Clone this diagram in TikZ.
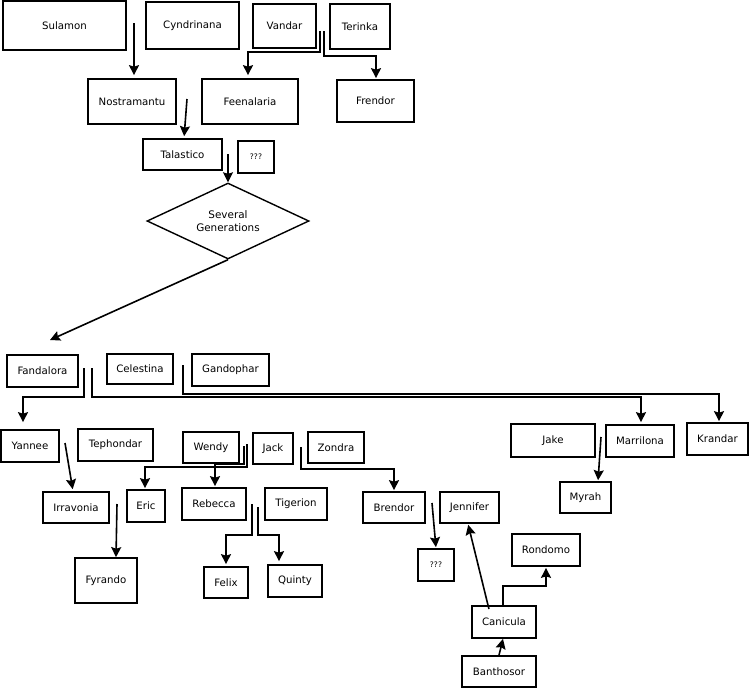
\documentclass[tikz,border=0pt]{standalone}
\usepackage{fontspec}
\setmainfont{DejaVu Sans}
\usetikzlibrary{arrows.meta,shapes.geometric}
\begin{document}
\begin{tikzpicture}[x=1pt,y=-1pt,
  box/.style={draw,line width=1.7pt,rectangle,inner sep=0pt,font=\fontsize{10.2}{12}\selectfont},
  qbox/.style={box,font=\fontsize{7.6}{10}\selectfont},
  arr/.style={line width=1.6pt,-{Stealth[length=10pt,width=10pt,inset=1.5pt]}},
  ln/.style={line width=1.6pt}]
\useasboundingbox (0,0) rectangle (750,689);
% boxes
\node[box,minimum width=123pt,minimum height=49pt] (sulamon) at (64.5,25.5) {Sulamon};
\node[box,minimum width=93pt,minimum height=47pt] (cyndrinana) at (192.5,25.5) {Cyndrinana};
\node[box,minimum width=63pt,minimum height=44pt] (vandar) at (284.5,26) {Vandar};
\node[box,minimum width=60pt,minimum height=45pt] (terinka) at (360,26.5) {Terinka};
\node[box,minimum width=88pt,minimum height=45pt] (nostramantu) at (132,101.5) {Nostramantu};
\node[box,minimum width=96pt,minimum height=45pt] (feenalaria) at (250,101.5) {Feenalaria};
\node[box,minimum width=77pt,minimum height=42pt] (frendor) at (375.5,101) {Frendor};
\node[box,minimum width=79pt,minimum height=31pt] (talastico) at (182.5,154.5) {Talastico};
\node[qbox,minimum width=36pt,minimum height=32pt] (unk1) at (256,157) {???};
\node[draw,line width=1.4pt,shape=diamond,aspect=2.13,inner sep=0pt,minimum width=162pt,minimum height=76pt,align=center,font=\fontsize{10.4}{13}\selectfont] (gens) at (228,221) {Several\\Generations};
\node[box,minimum width=71pt,minimum height=32pt] (fandalora) at (42.5,371) {Fandalora};
\node[box,minimum width=66pt,minimum height=30pt] (celestina) at (140,369) {Celestina};
\node[box,minimum width=77pt,minimum height=32pt] (gandophar) at (230.5,370) {Gandophar};
\node[box,minimum width=58pt,minimum height=32pt] (yannee) at (30,446) {Yannee};
\node[box,minimum width=75pt,minimum height=32pt] (tephondar) at (115.5,445) {Tephondar};
\node[box,minimum width=56pt,minimum height=31pt] (wendy) at (211,447.5) {Wendy};
\node[box,minimum width=40pt,minimum height=31pt] (jack) at (273,448.5) {Jack};
\node[box,minimum width=56pt,minimum height=31pt] (zondra) at (336,447.5) {Zondra};
\node[box,minimum width=66pt,minimum height=31pt] (irravonia) at (76,507.5) {Irravonia};
\node[box,minimum width=38pt,minimum height=32pt] (eric) at (146,506) {Eric};
\node[box,minimum width=64pt,minimum height=32pt] (rebecca) at (214,504) {Rebecca};
\node[box,minimum width=62pt,minimum height=32pt] (tigerion) at (296,504) {Tigerion};
\node[box,minimum width=62pt,minimum height=45pt] (fyrando) at (106,580.5) {Fyrando};
\node[box,minimum width=44pt,minimum height=31pt] (felix) at (226,582.5) {Felix};
\node[box,minimum width=54pt,minimum height=32pt] (quinty) at (295,581) {Quinty};
\node[box,minimum width=62pt,minimum height=31pt] (brendor) at (394,507.5) {Brendor};
\node[box,minimum width=59pt,minimum height=31pt] (jennifer) at (469.5,507.5) {Jennifer};
\node[qbox,minimum width=36pt,minimum height=32pt] (unk2) at (436,565) {???};
\node[box,minimum width=68pt,minimum height=32pt] (rondomo) at (546,550) {Rondomo};
\node[box,minimum width=84pt,minimum height=33pt] (jake) at (553,440.5) {Jake};
\node[box,minimum width=68pt,minimum height=32pt] (marrilona) at (640,441) {Marrilona};
\node[box,minimum width=61pt,minimum height=32pt] (krandar) at (717.5,439) {Krandar};
\node[box,minimum width=51pt,minimum height=31pt] (myrah) at (585.5,497.5) {Myrah};
\node[box,minimum width=64pt,minimum height=32pt] (canicula) at (504,622) {Canicula};
\node[box,minimum width=74pt,minimum height=31pt] (banthosor) at (499,671.5) {Banthosor};
% connector start points
\coordinate (s1) at (134,23);
\coordinate (s2) at (187,99);
\coordinate (s3) at (320,31);
\coordinate (s4) at (324,31);
\coordinate (s5) at (228,154);
\coordinate (e6) at (50,340);
\coordinate (s7) at (84,368);
\coordinate (s8) at (92,368);
\coordinate (s9) at (183,365);
\coordinate (s10) at (65,443);
\coordinate (s11) at (117,504);
\coordinate (s12) at (247,444);
\coordinate (s13) at (244,446);
\coordinate (s14) at (301,447);
\coordinate (s15) at (252,504);
\coordinate (s16) at (258,507);
\coordinate (s17) at (432,503);
\coordinate (s18) at (601,437);
% connectors
\draw[arr,shorten >=3pt] (s1) -- (s1 |- nostramantu.north);
\draw[arr,shorten >=2pt] (s2) -- ([xshift=1.5pt]talastico.north);
\draw[arr,shorten >=3pt] (s3) -- ++(0,21) -| ([xshift=-2pt]feenalaria.north);
\draw[arr,shorten >=1pt] (s4) -- ++(0,25) -| ([xshift=0.5pt]frendor.north);
\draw[arr] (s5) -- (gens.north);
\draw[arr] (gens.south) -- (e6);
\draw[arr,shorten >=7pt] (s7) -- ++(0,29) -| ([xshift=-7pt]yannee.north);
\draw[arr,shorten >=2pt] (s8) -- ++(0,29) -| ([xshift=1pt]marrilona.north);
\draw[arr,shorten >=1pt] (s9) -- ++(0,29) -| ([xshift=1.5pt]krandar.north);
\draw[arr,shorten >=2pt] (s10) -- ([xshift=-3pt]irravonia.north);
\draw[arr] (s11) -- ([xshift=10pt]fyrando.north);
\draw[arr,shorten >=1pt] (s12) -- ++(0,23) -| ([xshift=-1pt]eric.north);
\draw[arr,shorten >=1pt] (s13) -- ++(0,18) -| ([xshift=1pt]rebecca.north);
\draw[arr,shorten >=1pt] (s14) -- ++(0,22) -| (brendor.north);
\draw[arr,shorten >=2pt] (s15) -- ++(0,31) -| (felix.north);
\draw[arr,shorten >=3pt] (s16) -- ++(0,28) -| ([xshift=-16pt]quinty.north);
\draw[arr,shorten >=1pt] (s17) -- (unk2.north);
\draw[arr,shorten >=1pt] (s18) -- ([xshift=12.5pt]myrah.north);
\draw[arr,shorten <=-4pt,shorten >=1pt] ([xshift=-16pt]canicula.north) -- ([xshift=-1.5pt]jennifer.south);
\draw[arr,shorten >=1pt] ([xshift=-1pt]canicula.north) -- ++(0,-19) -| (rondomo.south);
\draw[arr] (banthosor.north) -- ([xshift=-1pt]canicula.south);
\end{tikzpicture}
\end{document}
